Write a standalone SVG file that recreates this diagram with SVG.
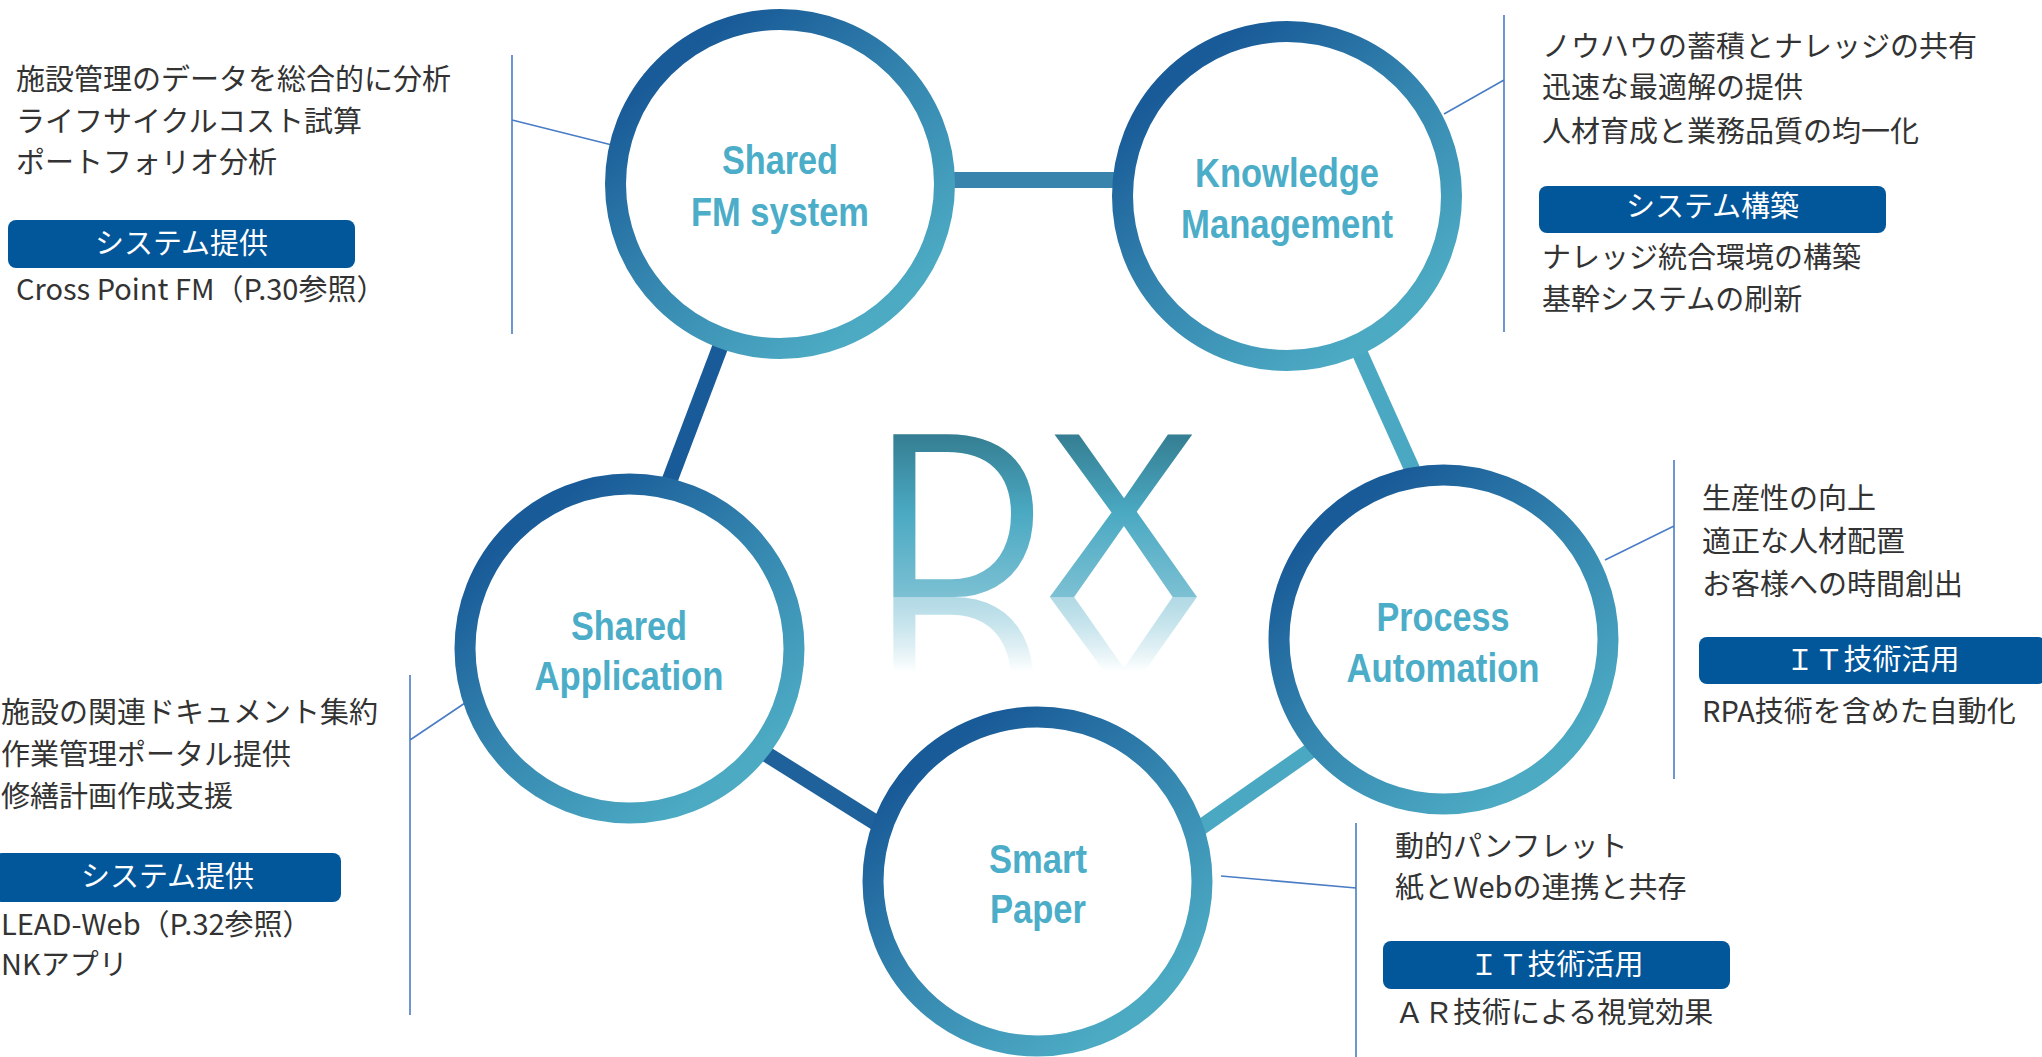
<svg xmlns="http://www.w3.org/2000/svg" xmlns:xlink="http://www.w3.org/1999/xlink" width="2042" height="1057" viewBox="0 0 2042 1057">
<defs>
<style>
.t{font-family:"Noto Sans CJK JP","Noto Sans",sans-serif;font-size:29px;fill:#333333}
.bt{font-family:"Noto Sans CJK JP","Noto Sans",sans-serif;font-size:29px;fill:#ffffff;text-anchor:middle}
.badge{fill:#02569a}
.lbl{font-family:"Liberation Sans",Arial,sans-serif;font-weight:bold;font-size:41px;fill:#4badc8;text-anchor:middle}
.ring{fill:#ffffff;stroke:url(#ringG);stroke-width:21}
.lead{stroke:#4a7dc5;stroke-width:1.6;fill:none}
.bar{stroke-width:16;fill:none}
.dx{font-family:"Liberation Sans",Arial,sans-serif;font-size:236px}
</style>
<linearGradient id="ringG" x1="0.2" y1="0.12" x2="0.8" y2="0.88">
<stop offset="0" stop-color="#195b98"/>
<stop offset="0.5" stop-color="#3587b0"/>
<stop offset="1" stop-color="#4caac3"/>
</linearGradient>
<linearGradient id="dxG" gradientUnits="userSpaceOnUse" x1="0" y1="428" x2="0" y2="597">
<stop offset="0" stop-color="#337a8e"/>
<stop offset="0.5" stop-color="#4aa9c2"/>
<stop offset="1" stop-color="#7cc0d3"/>
</linearGradient>
<linearGradient id="fadeG" gradientUnits="userSpaceOnUse" x1="0" y1="597" x2="0" y2="672">
<stop offset="0" stop-color="#ffffff" stop-opacity="0.6"/>
<stop offset="1" stop-color="#ffffff" stop-opacity="0"/>
</linearGradient>
<mask id="fadeM" maskUnits="userSpaceOnUse" x="850" y="597" width="400" height="120">
<rect x="850" y="597" width="400" height="120" fill="url(#fadeG)"/>
</mask>
</defs>

<rect x="0" y="0" width="2042" height="1057" fill="#ffffff"/>

<g id="dx-title">
<text id="dxText" class="dx" x="874" y="597" fill="url(#dxG)">DX</text>
<g mask="url(#fadeM)">
<use href="#dxText" xlink:href="#dxText" transform="translate(0,1194) scale(1,-1)"/>
</g>
</g>

<g id="connectors">
<line class="bar" x1="900" y1="180" x2="1170" y2="180" stroke="#3884ad"/>
<line class="bar" x1="738" y1="300" x2="647" y2="540" stroke="#185b98"/>
<line class="bar" x1="1336" y1="300" x2="1444" y2="540" stroke="#4aa8c2"/>
<line class="bar" x1="720" y1="725" x2="940" y2="863" stroke="#1f619b"/>
<line class="bar" x1="1140" y1="870" x2="1370" y2="709" stroke="#4aa8c2"/>
<path class="lead" d="M512,55 V334 M512,120 L612,145"/>
<path class="lead" d="M1504,15 V332 M1504,80 L1444,114"/>
<path class="lead" d="M1674,460 V779 M1674,526 L1605,560"/>
<path class="lead" d="M1356,823 V1057 M1356,888 L1221,876"/>
<path class="lead" d="M410,675 V1015 M410,740 L465,703"/>
</g>

<g id="node-fm">
<circle class="ring" cx="780" cy="184" r="164.5"/>
<text class="lbl" x="780" y="174" textLength="116" lengthAdjust="spacingAndGlyphs">Shared</text>
<text class="lbl" x="780" y="226" textLength="178" lengthAdjust="spacingAndGlyphs">FM system</text>
</g>
<g id="node-km">
<circle class="ring" cx="1287" cy="196" r="164.5"/>
<text class="lbl" x="1287" y="187" textLength="184" lengthAdjust="spacingAndGlyphs">Knowledge</text>
<text class="lbl" x="1287" y="238" textLength="212" lengthAdjust="spacingAndGlyphs">Management</text>
</g>
<g id="node-pa">
<circle class="ring" cx="1443.5" cy="639.5" r="164.5"/>
<text class="lbl" x="1443" y="631" textLength="133" lengthAdjust="spacingAndGlyphs">Process</text>
<text class="lbl" x="1443" y="682" textLength="193" lengthAdjust="spacingAndGlyphs">Automation</text>
</g>
<g id="node-sp">
<circle class="ring" cx="1037.5" cy="881.5" r="164.5"/>
<text class="lbl" x="1038" y="873" textLength="98" lengthAdjust="spacingAndGlyphs">Smart</text>
<text class="lbl" x="1038" y="923" textLength="96" lengthAdjust="spacingAndGlyphs">Paper</text>
</g>
<g id="node-sa">
<circle class="ring" cx="629.5" cy="648.5" r="164.5"/>
<text class="lbl" x="629" y="640" textLength="116" lengthAdjust="spacingAndGlyphs">Shared</text>
<text class="lbl" x="629" y="690" textLength="189" lengthAdjust="spacingAndGlyphs">Application</text>
</g>

<g id="info-fm">
<text class="t" x="16" y="90">施設管理のデータを総合的に分析</text>
<text class="t" x="16" y="132">ライフサイクルコスト試算</text>
<text class="t" x="16" y="173">ポートフォリオ分析</text>
<rect class="badge" x="8" y="220" width="347" height="48" rx="8"/>
<text class="bt" x="181.5" y="254">システム提供</text>
<text class="t" x="16" y="300">Cross Point FM（P.30参照）</text>
</g>
<g id="info-km">
<text class="t" x="1542" y="57">ノウハウの蓄積とナレッジの共有</text>
<text class="t" x="1542" y="98">迅速な最適解の提供</text>
<text class="t" x="1542" y="142">人材育成と業務品質の均一化</text>
<rect class="badge" x="1539" y="186" width="347" height="47" rx="8"/>
<text class="bt" x="1712.5" y="217">システム構築</text>
<text class="t" x="1542" y="268">ナレッジ統合環境の構築</text>
<text class="t" x="1542" y="310">基幹システムの刷新</text>
</g>
<g id="info-pa">
<text class="t" x="1702" y="509">生産性の向上</text>
<text class="t" x="1702" y="552">適正な人材配置</text>
<text class="t" x="1702" y="595">お客様への時間創出</text>
<rect class="badge" x="1699" y="637" width="347" height="47" rx="8"/>
<text class="bt" x="1872.5" y="670">ＩＴ技術活用</text>
<text class="t" x="1702" y="722">RPA技術を含めた自動化</text>
</g>
<g id="info-sp">
<text class="t" x="1395" y="857">動的パンフレット</text>
<text class="t" x="1395" y="898">紙とWebの連携と共存</text>
<rect class="badge" x="1383" y="941" width="347" height="48" rx="8"/>
<text class="bt" x="1556.5" y="975">ＩＴ技術活用</text>
<text class="t" x="1395" y="1023">ＡＲ技術による視覚効果</text>
</g>
<g id="info-sa">
<text class="t" x="1" y="723">施設の関連ドキュメント集約</text>
<text class="t" x="1" y="765">作業管理ポータル提供</text>
<text class="t" x="1" y="807">修繕計画作成支援</text>
<rect class="badge" x="-6" y="853" width="347" height="49" rx="8"/>
<text class="bt" x="167.5" y="887">システム提供</text>
<text class="t" x="1" y="935">LEAD-Web（P.32参照）</text>
<text class="t" x="1" y="975">NKアプリ</text>
</g>
</svg>
